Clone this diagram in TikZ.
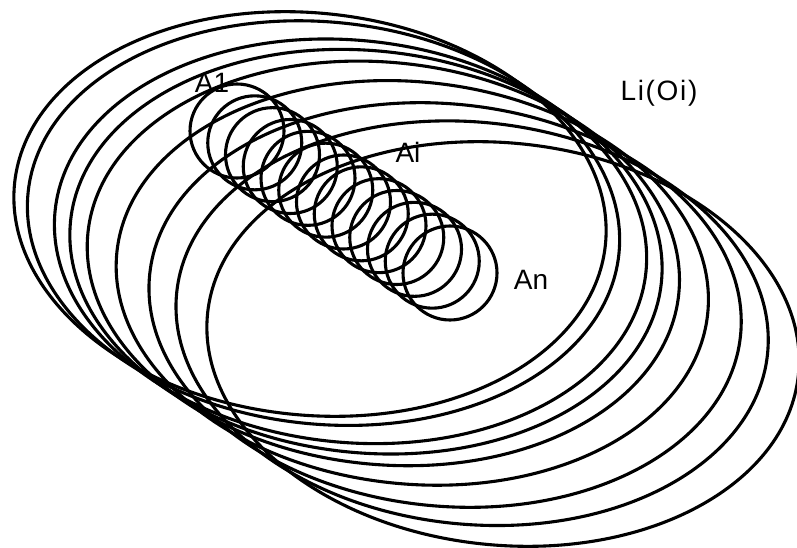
\documentclass[tikz,border=0pt]{standalone}
\usepackage{fontspec}
\setmainfont{Liberation Sans}
\begin{document}
\begin{tikzpicture}[x=1pt,y=-1pt]
\tikzset{
  orbit/.style={draw=black, line width=3.1pt},
  ring/.style={draw=black, line width=3.1pt},
  lab/.style={font=\fontsize{28}{28}\selectfont, inner sep=0pt, text=black}
}
\useasboundingbox (0,0) rectangle (797,548);
\fill[white] (0,0) rectangle (797,548);
\begin{scope}
\clip (0,0) rectangle (797,548);
\foreach \t in {0,0.07,0.21,0.29,0.38,0.53,0.70,0.84,1.0} {
  \pgfmathsetmacro\cx{310+193*\t}
  \pgfmathsetmacro\cy{214+130*\t}
  \draw[orbit, rotate around={-6:(\cx,\cy)}] (\cx,\cy) ellipse [x radius=297pt, y radius=201pt];
}
\foreach \i in {0,...,12} {
  \pgfmathsetmacro\cx{237+213*\i/12}
  \pgfmathsetmacro\cy{131+142*\i/12}
  \draw[ring] (\cx,\cy) circle [radius=47pt];
}
\end{scope}
\node[lab] (a1) at (212,83) {A1};
\node[lab] (ai) at (408,152) {Ai};
\node[lab] (an) at (531,280) {An};
\node[lab] (li) at (659,93) {\addfontfeature{LetterSpace=6}Li(Oi)};
\end{tikzpicture}
\end{document}
